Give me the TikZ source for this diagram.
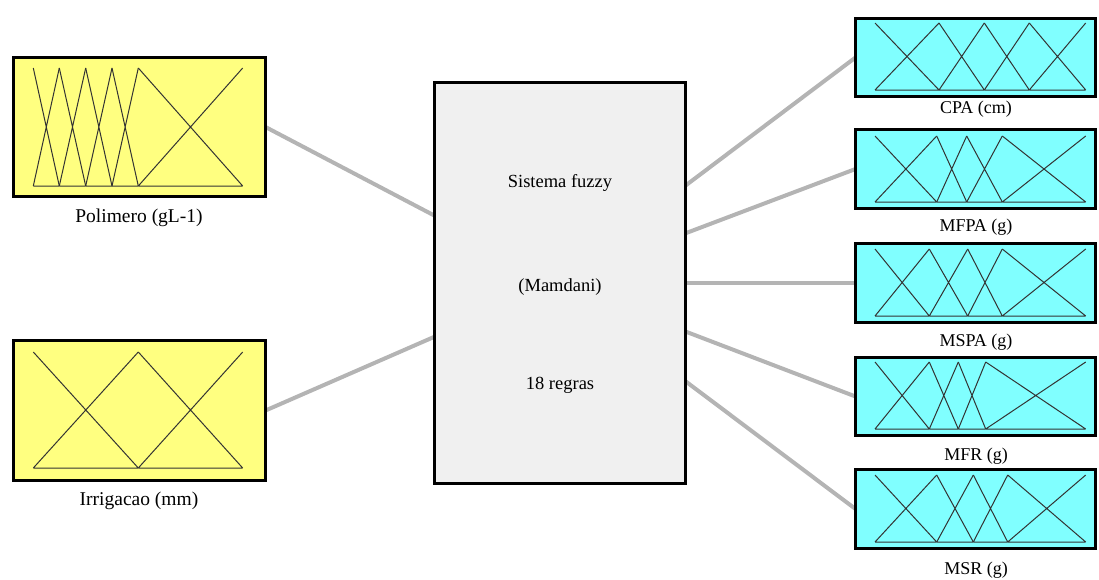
\documentclass[tikz,border=0pt]{standalone}
\usepackage{fontspec}
\setmainfont{Liberation Serif}
\usetikzlibrary{calc,backgrounds}

\definecolor{inyellow}{rgb}{1,1,0.5}
\definecolor{outcyan}{rgb}{0.5,1,1}
\definecolor{sysgray}{rgb}{0.94,0.94,0.94}
\definecolor{linkgray}{RGB}{180,180,180}

\tikzset{
  varbox/.style={draw=black, line width=3.2pt, inner sep=0pt, outer sep=0pt},
  inbox/.style={varbox, fill=inyellow, minimum width=252pt},
  outbox/.style={varbox, fill=outcyan, minimum width=240pt, minimum height=79pt},
  sysbox/.style={varbox, fill=sysgray},
  link/.style={draw=linkgray, line width=4pt},
  mf/.style={draw=black!80, line width=1pt},
  inlabel/.style={font=\fontsize{19.5}{22}\selectfont, inner sep=0pt},
  outlabel/.style={font=\fontsize{18}{21}\selectfont, inner sep=0pt},
  systext/.style={font=\fontsize{18.5}{22}\selectfont, inner sep=0pt},
}

% triangular membership functions: every interval between two
% consecutive breakpoints gets both diagonals, plus the base line
\newcommand\mfgrid[3]{%
  \foreach \px [count=\k, remember=\px as \qx (initially 0)] in {#3} {%
    \ifnum\k>1
      \draw[mf] (\qx,#1) -- (\px,#2) (\qx,#2) -- (\px,#1) (\qx,#2) -- (\px,#2);
    \fi
  }%
}

\begin{document}
\begin{tikzpicture}[x=1pt, y=-1pt]
\useasboundingbox (0,0) rectangle (1099,579);

% input variables
\node[inbox, minimum height=139pt] (pol) at (139.5,127) {};
\node[inbox, minimum height=140pt] (irr) at (139.5,410.5) {};
\node[inlabel] (polL) at (139,218) {Polimero (gL-1)};
\node[inlabel] (irrL) at (139,501) {Irrigacao (mm)};

% inference system
\node[sysbox, minimum width=251pt, minimum height=401pt] (sys) at (560,283) {};
\node[systext] (sysA) at (560,183) {Sistema fuzzy};
\node[systext] (sysB) at (560,287) {(Mamdani)};
\node[systext] (sysC) at (560,385) {18 regras};

% output variables
\node[outbox, minimum height=78pt] (cpa) at (975.5,57.5) {};
\node[outbox] (mfpa) at (975.5,169) {};
\node[outbox] (mspa) at (975.5,283) {};
\node[outbox, minimum height=78pt] (mfr) at (975.5,396.5) {};
\node[outbox] (msr) at (975.5,509) {};
\node[outlabel] (cpaL) at (976,109) {CPA (cm)};
\node[outlabel] (mfpaL) at (976,227) {MFPA (g)};
\node[outlabel] (mspaL) at (976,342) {MSPA (g)};
\node[outlabel] (mfrL) at (976,456) {MFR (g)};
\node[outlabel] (msrL) at (976,570) {MSR (g)};

% attachment points on the system block
\coordinate (in1) at ($(sys.north west)!0.332!(sys.south west)$);
\coordinate (in2) at ($(sys.north west)!0.634!(sys.south west)$);
\coordinate (out1) at ($(sys.north east)!0.257!(sys.south east)$);
\coordinate (out2) at ($(sys.north east)!0.376!(sys.south east)$);
\coordinate (out3) at ($(sys.north east)!0.5!(sys.south east)$);
\coordinate (out4) at ($(sys.north east)!0.621!(sys.south east)$);
\coordinate (out5) at ($(sys.north east)!0.745!(sys.south east)$);

\begin{scope}[on background layer]
  \draw[link] (pol.east) -- (in1);
  \draw[link] (irr.east) -- (in2);
  \draw[link] (out1) -- (cpa.west);
  \draw[link] (out2) -- (mfpa.west);
  \draw[link] (out3) -- (mspa.west);
  \draw[link] (out4) -- (mfr.west);
  \draw[link] (out5) -- (msr.west);
\end{scope}

% membership functions
\mfgrid{68}{186}{33.3,59.3,85.7,112,138.3,242.7}
\mfgrid{352}{468}{33.3,138.3,242.7}
\mfgrid{23}{90}{875,939,984.3,1029.3,1085.7}
\mfgrid{136}{202}{875,936.7,966.7,1002.3,1085.7}
\mfgrid{249}{316}{875,929.3,967.7,1002.3,1085.7}
\mfgrid{362}{429}{875,929.3,958.3,985.7,1085.7}
\mfgrid{475}{542}{875,936.7,973.3,1007.7,1085.7}
\end{tikzpicture}
\end{document}
